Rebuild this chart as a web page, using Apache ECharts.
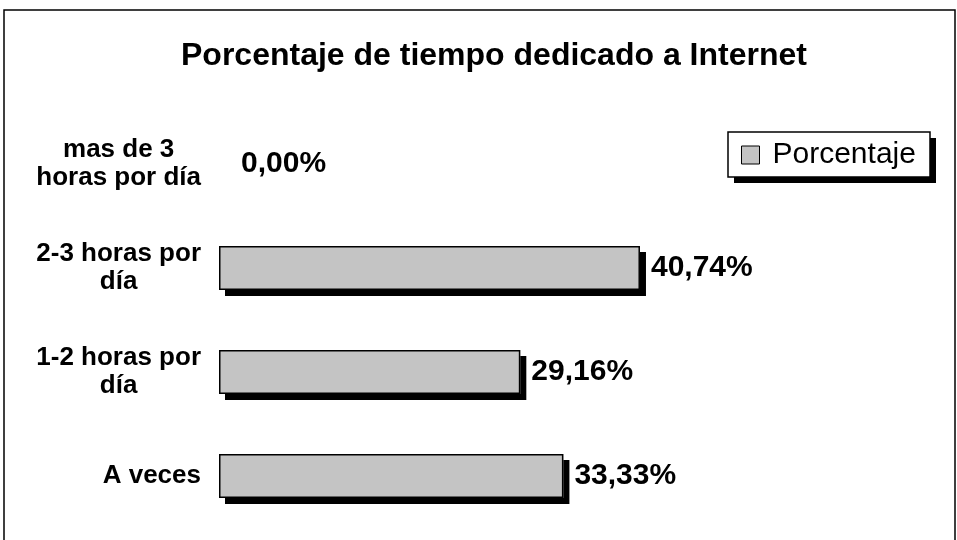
<!DOCTYPE html>
<html>
<head>
<meta charset="utf-8">
<script src="https://cdn.jsdelivr.net/npm/echarts@6/dist/echarts.min.js"></script>
<style>
    html, body { margin: 0; padding: 0; background: #fff; }
    #chart { width: 957px; height: 540px; }
</style>
</head>
<body>
<div id="chart"></div>
<script>
    // categories bottom -> top
    var categories = ['A veces', '1-2 horas por\ndía', '2-3 horas por\ndía', 'mas de 3\nhoras por día'];
    var porcentaje = [33.33, 29.16, 40.74, 0.00];
    var seriesName = 'Porcentaje';
    var titleText = 'Porcentaje de tiempo dedicado a Internet';

    var font = '"Liberation Sans", Arial, sans-serif';
    var barFill = '#c4c4c4';

    var myChart = echarts.init(document.getElementById('chart'));

    // fill + drop shadow (no border, otherwise the border shadow shows twice)
    var shadowData = porcentaje.slice();
    // border + labels on top
    var outlineData = porcentaje.map(function (v) {
        if (v === 0) {
            return {value: v, itemStyle: {borderWidth: 0}, label: {distance: 22}};
        }
        return v;
    });

    var option = {
        backgroundColor: '#fff',
        animation: false,
        title: {
            text: titleText,
            left: 176,
            top: 35,
            textStyle: {fontFamily: font, fontSize: 32, fontWeight: 'bold', color: '#000'}
        },
        legend: {
            data: [{name: seriesName, icon: 'rect'}],
            left: 728,
            top: 132,
            orient: 'vertical',
            padding: [8, 10, 8, 13],
            itemWidth: 18,
            itemHeight: 18,
            itemStyle: {color: barFill, borderColor: '#000', borderWidth: 1, shadowBlur: 0, shadowOffsetX: 0, shadowOffsetY: 0, shadowColor: 'transparent'},
            textStyle: {fontFamily: font, fontSize: 30, color: '#000', padding: [0, 0, 0, 8]}
        },
        graphic: [{
            type: 'rect',
            z: -10,
            shape: {x: 4, y: 10, width: 951, height: 560},
            style: {fill: 'none', stroke: '#000', lineWidth: 1.5},
            silent: true
        }, {
            // legend frame with drop shadow
            type: 'rect',
            z: -5,
            shape: {x: 728, y: 132, width: 202, height: 45},
            style: {fill: '#000'},
            x: 6,
            y: 6,
            silent: true
        }, {
            type: 'rect',
            z: -4,
            shape: {x: 728, y: 132, width: 202, height: 45},
            style: {fill: '#fff', stroke: '#000', lineWidth: 1.5},
            silent: true
        }],
        grid: {
            left: 219,
            top: 112,
            width: 620,
            height: 416
        },
        xAxis: {
            type: 'value',
            min: 0,
            max: 60,
            show: false
        },
        yAxis: {
            type: 'category',
            data: categories,
            axisLine: {show: false},
            axisTick: {show: false},
            axisLabel: {
                align: 'right',
                margin: 18,
                formatter: function (value) {
                    return value.split('\n').map(function (l) {
                        return '{c|' + l + '}';
                    }).join('\n');
                },
                rich: {
                    c: {fontFamily: font, fontSize: 26, fontWeight: 'bold', color: '#000', lineHeight: 28, align: 'center'}
                }
            }
        },
        series: [{
            name: seriesName,
            type: 'bar',
            data: shadowData,
            barWidth: 44,
            itemStyle: {
                color: barFill,
                borderWidth: 0,
                shadowColor: '#000',
                shadowBlur: 0,
                shadowOffsetX: 6,
                shadowOffsetY: 6
            }
        }, {
            name: seriesName,
            type: 'bar',
            data: outlineData,
            barWidth: 44,
            barGap: '-100%',
            itemStyle: {
                color: 'transparent',
                borderColor: '#000',
                borderWidth: 1.5
            },
            label: {
                show: true,
                position: 'right',
                distance: 11,
                fontFamily: font,
                fontSize: 30,
                fontWeight: 'bold',
                color: '#000',
                formatter: function (p) {
                    return p.value.toFixed(2).replace('.', ',') + '%';
                }
            }
        }]
    };
    option && myChart.setOption(option);
</script>
</body>
</html>
